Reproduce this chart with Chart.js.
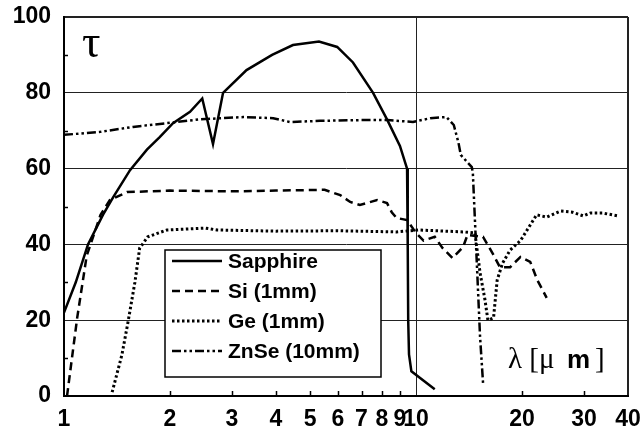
<!DOCTYPE html>
<html>
<head>
<meta charset="utf-8">
<script src="https://cdn.jsdelivr.net/npm/chart.js@4.4.1/dist/chart.umd.min.js"></script>
<style>
  html, body { margin: 0; padding: 0; background: #fff; }
  #wrap { width: 640px; height: 431px; }
</style>
</head>
<body>
<div id="wrap"><canvas id="chart" width="640" height="431"></canvas></div>
<script>
// wavelength (um) / transmission (%) per material
const sapphireWl = [1.0, 1.08, 1.17, 1.29, 1.38, 1.54, 1.72, 1.87, 2.04, 2.28, 2.47, 2.65, 2.83, 3.3, 3.9, 4.47, 5.3, 5.97, 6.62, 7.55, 8.27, 9.0, 9.43, 9.47, 9.5, 9.55, 9.7, 11.3];
const sapphireT  = [22, 30, 40, 47.8, 52.5, 59.6, 65, 68.3, 72, 75, 78.5, 66.5, 80, 86, 90, 92.6, 93.5, 92.1, 88, 80, 73, 66, 60, 40, 20, 11, 6.5, 1.8];

const siWl = [1.02, 1.09, 1.16, 1.27, 1.35, 1.51, 2.0, 3.0, 4.0, 5.5, 6.09, 6.5, 6.93, 7.75, 8.27, 8.53, 8.8, 9.43, 10.0, 10.5, 11.3, 11.9, 12.7, 13.6, 14.0, 15.5, 16.6, 17.3, 18.5, 19.8, 21.1, 22.1, 23.5];
const siT  = [0, 20.6, 37, 47.8, 51.7, 53.8, 54.2, 54, 54.2, 54.4, 53, 51.2, 50.4, 51.7, 50.9, 48.5, 47, 46.4, 43, 41, 42, 39, 36.4, 39.3, 42.5, 42, 37.2, 34, 34, 36.7, 35.4, 30.6, 25.9];

const geWl = [1.37, 1.46, 1.52, 1.59, 1.64, 1.73, 1.96, 2.52, 2.72, 4.0, 6.0, 8.8, 10.2, 13.6, 14.7, 15.2, 15.7, 16.0, 16.6, 17.0, 17.6, 18.5, 19.8, 22.0, 23.5, 25.7, 27.8, 29.9, 31.3, 33.8, 37.5];
const geT  = [1, 10.8, 19.5, 30, 39, 42, 43.8, 44.3, 43.8, 43.5, 43.6, 43.3, 43.8, 43.3, 43, 32.5, 25.3, 20, 20.6, 30.6, 35, 38.5, 41, 47.8, 47.2, 48.8, 48.5, 47.5, 48.3, 48.3, 47.5];

const znseWl = [1.0, 1.27, 1.57, 1.96, 2.43, 3.23, 3.93, 4.38, 5.34, 7.0, 8.3, 9.8, 10.97, 12.2, 12.8, 13.2, 13.4, 14.4, 14.5, 15.2, 15.5];
const znseT  = [68.9, 69.7, 71, 72, 73, 73.6, 73.3, 72.3, 72.6, 72.8, 72.8, 72.3, 73.3, 73.6, 71.5, 66.8, 63.6, 60.4, 58.8, 15.6, 3.4];

const labels = ['Sapphire', 'Si (1mm)', 'Ge (1mm)', 'ZnSe (10mm)'];
const dashes = [[], [8, 5], [2.5, 2.5], [9, 3, 2.5, 3, 2.5, 3]];

const xTicks = [1, 2, 3, 4, 5, 6, 7, 8, 9, 10, 20, 30, 40];
const xMinor = [2, 3, 4, 5, 6, 7, 8, 9, 20, 30];
const yMinor = [10, 30, 50, 70, 90];

const pts = (xs, ys) => xs.map((x, i) => ({ x: x, y: ys[i] }));
const series = [pts(sapphireWl, sapphireT), pts(siWl, siT), pts(geWl, geT), pts(znseWl, znseT)];

const serif = '"Liberation Serif", "DejaVu Serif", serif';

const extras = {
  id: 'extras',
  afterDraw(chart) {
    const c = chart.ctx;
    const a = chart.chartArea;
    const xs = chart.scales.x, ys = chart.scales.y;
    c.save();
    c.strokeStyle = '#000';
    c.lineWidth = 1.5;
    // small inward ticks
    yMinor.forEach(v => {
      const py = Math.round(ys.getPixelForValue(v)) + 0.5;
      c.beginPath(); c.moveTo(a.left, py); c.lineTo(a.left + 4, py); c.stroke();
    });
    xMinor.forEach(v => {
      const px = Math.round(xs.getPixelForValue(v)) + 0.5;
      c.beginPath(); c.moveTo(px, a.bottom); c.lineTo(px, a.bottom - 5); c.stroke();
    });

    // legend box
    const bx = 165, by = 250, bw = 216, bh = 127;
    c.fillStyle = '#fff';
    c.fillRect(bx, by, bw, bh);
    c.lineWidth = 1.5;
    c.strokeRect(bx, by, bw, bh);
    c.font = 'bold 21px "Liberation Sans", Arial, sans-serif';
    c.textBaseline = 'middle';
    c.fillStyle = '#000';
    chart.data.datasets.forEach((ds, i) => {
      const ry = by + 11 + i * 30;
      c.beginPath();
      c.setLineDash(ds.borderDash || []);
      c.lineWidth = ds.borderWidth;
      c.moveTo(bx + 7, ry); c.lineTo(bx + 57, ry);
      c.stroke();
      c.setLineDash([]);
      c.fillText(ds.label, bx + 63, ry + 1);
    });

    // axis symbols
    c.font = '46px ' + serif;
    c.textBaseline = 'alphabetic';
    c.fillText('\u03c4', a.left + 18, a.top + 40);
    c.font = '29px ' + serif;
    c.fillText('\u03bb [\u03bc', 508, 368);
    c.font = 'bold 26px "Liberation Sans", Arial, sans-serif';
    c.fillText('m', 567, 368);
    c.font = '29px ' + serif;
    c.fillText(']', 595, 368);
    c.restore();
  }
};

const tickFont = { family: '"Liberation Sans", Arial, sans-serif', size: 23, weight: 'bold' };

new Chart(document.getElementById('chart'), {
  type: 'line',
  data: {
    datasets: series.map((d, i) => ({
      label: labels[i],
      data: d,
      borderColor: '#000',
      borderWidth: i === 2 ? 3 : 2.5,
      borderDash: dashes[i],
      pointRadius: 0,
      tension: 0,
      fill: false
    }))
  },
  options: {
    responsive: false,
    animation: false,
    devicePixelRatio: 1,
    layout: { padding: { top: 17, right: 12, left: 0, bottom: 0 } },
    plugins: { legend: { display: false }, tooltip: { enabled: false } },
    scales: {
      x: {
        type: 'logarithmic',
        min: 1,
        max: 40,
        afterBuildTicks: s => { s.ticks = xTicks.map(v => ({ value: v })); },
        // fixed axis band, no extra room for the end labels
        afterFit: s => { s.height = 35; s.paddingLeft = 0; s.paddingRight = 0; },
        ticks: {
          autoSkip: false, maxRotation: 0, minRotation: 0,
          color: '#000', font: tickFont, padding: 10,
          callback: v => String(v)
        },
        grid: {
          drawTicks: false,
          color: ctx => (ctx.tick && (ctx.tick.value === 10 || ctx.tick.value === 40)) ? '#222' : 'transparent',
          lineWidth: ctx => (ctx.tick && ctx.tick.value === 40) ? 2 : 1
        },
        border: { display: true, color: '#000', width: 2 }
      },
      y: {
        min: 0,
        max: 100,
        afterFit: s => { s.width = 64; s.paddingTop = 0; s.paddingBottom = 0; },
        ticks: { stepSize: 20, color: '#000', font: tickFont, padding: 13 },
        grid: {
          drawTicks: false,
          color: '#222',
          lineWidth: ctx => (ctx.tick && ctx.tick.value === 100) ? 2 : 1
        },
        border: { display: true, color: '#000', width: 2 }
      }
    }
  },
  plugins: [extras]
});
</script>
</body>
</html>
